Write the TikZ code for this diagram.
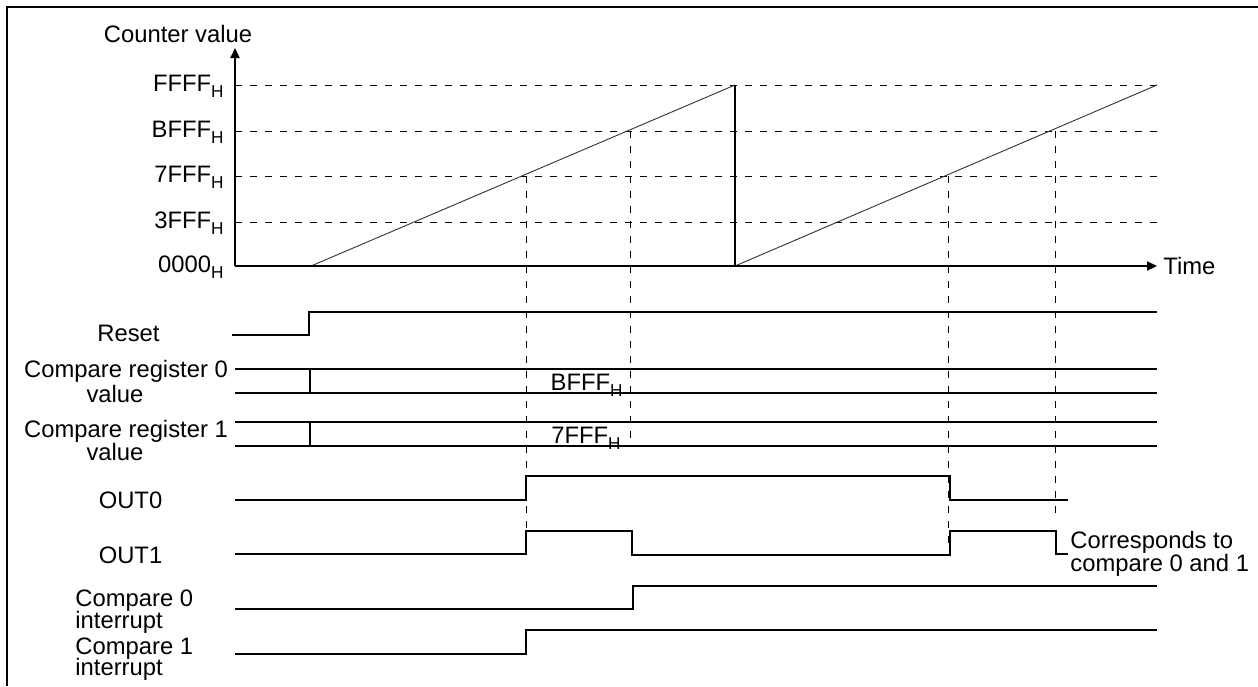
\documentclass[tikz,border=0pt]{standalone}
\usepackage{fontspec}
\setmainfont{Liberation Sans}
\usetikzlibrary{arrows.meta}
\newcommand{\Hsub}{\raisebox{-3pt}{\fontsize{8.6}{9}\selectfont H}}
\begin{document}
\begin{tikzpicture}[x=0.5pt,y=-0.5pt,
  lbl/.style={inner sep=0pt,font=\fontsize{11.9}{12}\selectfont},
  frame/.style={line width=1pt},
  axis/.style={line width=1.1pt,-{Triangle[length=5pt,width=4.5pt]}},
  grid/.style={line width=0.5pt,dash pattern=on 3.5pt off 4pt},
  vguide/.style={line width=0.5pt,dash pattern=on 3.5pt off 4pt},
  ramp/.style={line width=0.45pt,black!80},
  drop/.style={line width=0.6pt},
  sig/.style={line width=0.65pt}]
\useasboundingbox (0,0) rectangle (1258,686);
% frame
\draw[frame] (7,686) -- (7,7) -- (1258,7);
% grid
\foreach \yy in {85,131,176,222}
  \draw[grid] (235,\yy) -- (1157,\yy);
% ramps
\draw[ramp] (311,266) -- (735,85);
\draw[drop] (735,85) -- (735,266);
\draw[ramp] (735,266) -- (1157,85);
% vertical guides
\draw[vguide] (526,176) -- (526,530);
\draw[vguide] (630,131) -- (630,447);
\draw[vguide] (948,176) -- (948,545);
\draw[vguide] (1055,131) -- (1055,517);
% axes
\draw[axis] (235,266) -- (235,48);
\draw[axis] (235,266) -- (1157,266);
% labels of axes
\node[lbl,anchor=base] (cv) at (178,42) {Counter value};
\node[lbl,anchor=base east] (lF) at (224,91) {FFFF\Hsub};
\node[lbl,anchor=base east] (lB) at (224,137) {BFFF\Hsub};
\node[lbl,anchor=base east] (l7) at (224,182) {7FFF\Hsub};
\node[lbl,anchor=base east] (l3) at (224,228) {3FFF\Hsub};
\node[lbl,anchor=base east] (l0) at (224,272) {0000\Hsub};
\node[lbl,anchor=base west] (time) at (1163,274) {Time};
% signals
\draw[sig] (232,335) -- (309,335) -- (309,312) -- (1157,312);
\draw[sig] (235,369) -- (1157,369);
\draw[sig] (235,393) -- (1157,393);
\draw[sig] (310,369) -- (310,393);
\draw[sig] (235,422) -- (1157,422);
\draw[sig] (235,446) -- (1157,446);
\draw[sig] (310,422) -- (310,446);
\draw[sig] (235,500) -- (526,500) -- (526,476) -- (950,476) -- (950,500) -- (1068,500);
\draw[sig] (235,554) -- (526,554) -- (526,531) -- (632,531) -- (632,555) -- (950,555) -- (950,531) -- (1056,531) -- (1056,554) -- (1068,554);
\draw[sig] (235,609) -- (633,609) -- (633,586) -- (1157,586);
\draw[sig] (235,654) -- (526,654) -- (526,630) -- (1157,630);
% signal labels
\node[lbl,anchor=base] (rst) at (128.5,341) {Reset};
\node[lbl,anchor=base] (cr0a) at (126,377) {Compare register 0};
\node[lbl,anchor=base] (cr0b) at (115,402) {value};
\node[lbl,anchor=base] (cr1a) at (126,437) {Compare register 1};
\node[lbl,anchor=base] (cr1b) at (115,460) {value};
\node[lbl,anchor=base] (o0) at (130.5,508) {OUT0};
\node[lbl,anchor=base] (o1) at (130.5,563) {OUT1};
\node[lbl,anchor=base west] (c0a) at (75,606) {Compare 0};
\node[lbl,anchor=base west] (c0b) at (75,628) {interrupt};
\node[lbl,anchor=base west] (c1a) at (75,654) {Compare 1};
\node[lbl,anchor=base west] (c1b) at (75,675) {interrupt};
\node[lbl,anchor=base east] (v0) at (623,390) {BFFF\Hsub};
\node[lbl,anchor=base east] (v1) at (621,443) {7FFF\Hsub};
\node[lbl,anchor=base west] (corr1) at (1070,548) {Corresponds to};
\node[lbl,anchor=base west] (corr2) at (1070,571) {compare 0 and 1};
\end{tikzpicture}
\end{document}
